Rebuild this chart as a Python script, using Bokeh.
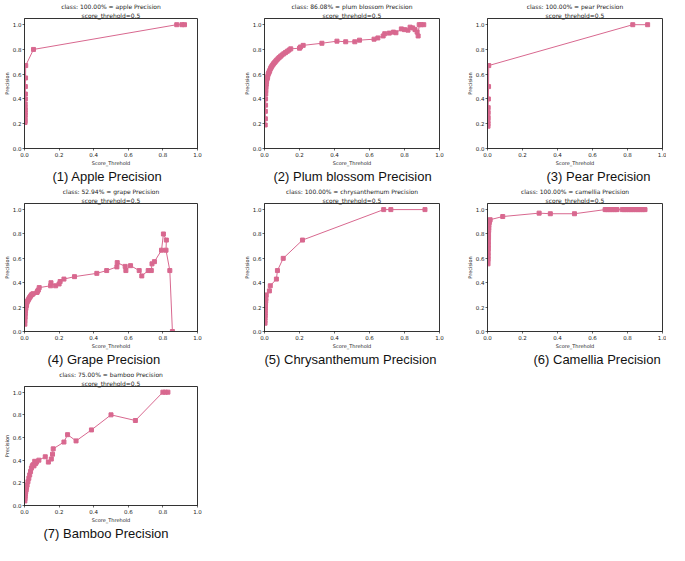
from bokeh.plotting import figure
from bokeh.models import Title, FixedTicker, PrintfTickFormatter, Range1d
from bokeh.layouts import column, row
from bokeh.embed import file_html
from bokeh.resources import INLINE

# ---------------- data ----------------
apple_x = [0.003, 0.003, 0.003, 0.003, 0.004, 0.004, 0.004, 0.004, 0.004, 0.005, 0.005, 0.005, 0.006, 0.007, 0.052, 0.88, 0.91, 0.925]
apple_y = [0.21, 0.22, 0.235, 0.25, 0.27, 0.29, 0.31, 0.33, 0.36, 0.40, 0.44, 0.50, 0.57, 0.67, 0.80, 1.0, 1.0, 1.0]

plum_x = [0.004, 0.005, 0.005, 0.006, 0.006, 0.007, 0.008, 0.009, 0.010, 0.012, 0.014, 0.016, 0.018, 0.021,
          0.024, 0.027, 0.030, 0.034, 0.038, 0.042, 0.047, 0.052, 0.058, 0.064, 0.070, 0.077, 0.084, 0.092,
          0.100, 0.110, 0.120, 0.130, 0.140, 0.150, 0.200, 0.206, 0.221, 0.328, 0.414, 0.464, 0.516, 0.543,
          0.626, 0.648, 0.678, 0.687, 0.713, 0.737, 0.751, 0.782, 0.800, 0.820, 0.832, 0.847, 0.860, 0.872,
          0.878, 0.884, 0.895, 0.910]
plum_y = [0.19, 0.24, 0.30, 0.35, 0.40, 0.44, 0.47, 0.50, 0.52, 0.54, 0.56, 0.57, 0.58, 0.60,
          0.61, 0.62, 0.63, 0.645, 0.655, 0.665, 0.675, 0.685, 0.695, 0.705, 0.715, 0.725, 0.735, 0.745,
          0.755, 0.765, 0.775, 0.785, 0.795, 0.805, 0.81, 0.82, 0.833, 0.85, 0.867, 0.862, 0.862, 0.875,
          0.883, 0.893, 0.909, 0.927, 0.932, 0.94, 0.935, 0.966, 0.96, 0.956, 0.98, 0.974, 0.96, 0.94,
          0.909, 1.0, 1.0, 1.0]

pear_x = [0.003, 0.003, 0.003, 0.004, 0.004, 0.004, 0.005, 0.006, 0.007, 0.83, 0.915]
pear_y = [0.18, 0.20, 0.22, 0.25, 0.29, 0.33, 0.40, 0.50, 0.67, 1.0, 1.0]

grape_x = [0.002, 0.003, 0.004, 0.005, 0.006, 0.008, 0.010, 0.012, 0.015, 0.018, 0.022, 0.026, 0.030, 0.035,
           0.040, 0.045, 0.050, 0.072, 0.075, 0.080, 0.085, 0.151, 0.153, 0.180, 0.200, 0.206, 0.228, 0.289,
           0.418, 0.475, 0.534, 0.536, 0.582, 0.586, 0.613, 0.663, 0.678, 0.715, 0.733, 0.737, 0.751, 0.792,
           0.803, 0.820, 0.818, 0.840, 0.855]
grape_y = [0.06, 0.09, 0.12, 0.15, 0.17, 0.19, 0.21, 0.22, 0.24, 0.25, 0.26, 0.27, 0.28, 0.29,
           0.30, 0.305, 0.31, 0.32, 0.33, 0.34, 0.36, 0.375, 0.40, 0.375, 0.39, 0.41, 0.43, 0.45,
           0.477, 0.50, 0.53, 0.565, 0.534, 0.50, 0.54, 0.50, 0.456, 0.50, 0.50, 0.555, 0.573, 0.667,
           0.80, 0.75, 0.667, 0.50, 0.0]

chrys_x = [0.003, 0.003, 0.003, 0.004, 0.004, 0.004, 0.005, 0.005, 0.006, 0.007, 0.008, 0.010, 0.028, 0.033,
           0.068, 0.074, 0.107, 0.217, 0.681, 0.722, 0.917]
chrys_y = [0.068, 0.09, 0.11, 0.13, 0.15, 0.17, 0.19, 0.21, 0.23, 0.25, 0.27, 0.30, 0.333, 0.375,
           0.43, 0.50, 0.60, 0.75, 1.0, 1.0, 1.0]

cam_x = [0.003, 0.004, 0.004, 0.004, 0.005, 0.005, 0.005, 0.006, 0.006, 0.007, 0.007, 0.008, 0.009, 0.010,
         0.012, 0.015, 0.087, 0.295, 0.359, 0.497, 0.672, 0.68, 0.69, 0.70, 0.71, 0.72, 0.73, 0.74,
         0.77, 0.78, 0.79, 0.80, 0.81, 0.82, 0.83, 0.84, 0.85, 0.86, 0.87, 0.88, 0.89, 0.90]
cam_y = [0.555, 0.59, 0.62, 0.65, 0.68, 0.71, 0.74, 0.77, 0.80, 0.83, 0.85, 0.87, 0.89, 0.90,
         0.91, 0.917, 0.943, 0.971, 0.966, 0.966, 1.0, 1.0, 1.0, 1.0, 1.0, 1.0, 1.0, 1.0,
         1.0, 1.0, 1.0, 1.0, 1.0, 1.0, 1.0, 1.0, 1.0, 1.0, 1.0, 1.0, 1.0, 1.0]

bam_x = [0.002, 0.003, 0.004, 0.005, 0.007, 0.010, 0.012, 0.015, 0.020, 0.025, 0.030, 0.035, 0.040, 0.045,
         0.050, 0.055, 0.059, 0.064, 0.070, 0.083, 0.120, 0.138, 0.155, 0.162, 0.166, 0.228, 0.249, 0.298,
         0.387, 0.500, 0.641, 0.800, 0.814, 0.829]
bam_y = [0.04, 0.06, 0.08, 0.10, 0.12, 0.14, 0.16, 0.18, 0.21, 0.24, 0.27, 0.30, 0.33, 0.35,
         0.36, 0.35, 0.39, 0.37, 0.383, 0.40, 0.43, 0.383, 0.41, 0.453, 0.50, 0.56, 0.625, 0.57,
         0.667, 0.80, 0.75, 1.0, 1.0, 1.0]

class_titles = [
    "class: 100.00% = apple Precision",
    "class: 86.08% = plum blossom Precision",
    "class: 100.00% = pear Precision",
    "class: 52.94% = grape Precision",
    "class: 100.00% = chrysanthemum Precision",
    "class: 100.00% = camellia Precision",
    "class: 75.00% = bamboo Precision",
]
captions = [
    "(1) Apple Precision",
    "(2) Plum blossom Precision",
    "(3) Pear Precision",
    "(4) Grape Precision",
    "(5) Chrysanthemum Precision",
    "(6) Camellia Precision",
    "(7) Bamboo Precision",
]
subtitle = "score_threhold=0.5"
x_label = "Score_Threhold"
y_label = "Precision"
ticks = [0.0, 0.2, 0.4, 0.6, 0.8, 1.0]

series = [(apple_x, apple_y), (plum_x, plum_y), (pear_x, pear_y), (grape_x, grape_y),
          (chrys_x, chrys_y), (cam_x, cam_y), (bam_x, bam_y)]

# ---------------- layout / style ----------------
COLOR = "#d8688f"
FRAME_W = 177
COL_L = [20, 22, 22]
COL_R = [43, 24, 4]
ROW_TOP = [15, 15, 15]
ROW_FRAME = [135, 134, 127]
ROW_BOT = [35, 34, 32]
CAP_OFFSET = [28, 9, 59, 23, 0, 46, 19]   # caption left edge from frame left, px
Y_TOP = 1.05


def make(i):
    c, r = i % 3, i // 3
    W = COL_L[c] + FRAME_W + COL_R[c]
    FH = ROW_FRAME[r]
    H = ROW_TOP[r] + FH + ROW_BOT[r]
    x, y = series[i]
    p = figure(width=W, height=H, output_backend="svg", toolbar_location=None,
               x_range=Range1d(0, 1), y_range=Range1d(0, Y_TOP), title=None,
               min_border_left=COL_L[c], min_border_right=COL_R[c],
               min_border_top=ROW_TOP[r], min_border_bottom=ROW_BOT[r])
    p.background_fill_color = "white"
    p.border_fill_color = "white"
    p.outline_line_color = "#333333"
    p.outline_line_width = 1
    p.outline_line_alpha = 1
    p.xgrid.visible = False
    p.ygrid.visible = False
    for ax in (p.xaxis[0], p.yaxis[0]):
        ax.ticker = FixedTicker(ticks=ticks)
        ax.formatter = PrintfTickFormatter(format="%.1f")
        ax.major_label_text_font = "DejaVu Sans"
        ax.major_label_text_font_size = "5.5px"
        ax.major_label_text_color = "#222222"
        ax.major_label_standoff = 1
        ax.major_tick_in = 0
        ax.major_tick_out = 2
        ax.major_tick_line_width = 0.6
        ax.minor_tick_line_color = None
        ax.axis_line_color = "#333333"
        ax.axis_line_width = 1
        ax.axis_label_text_font = "DejaVu Sans"
        ax.axis_label_text_font_size = "5px"
        ax.axis_label_text_font_style = "normal"
        ax.axis_label_text_color = "#222222"
        ax.axis_label_standoff = 0
    p.xaxis.axis_label = x_label
    p.yaxis.axis_label = y_label

    p.line(x, y, line_color=COLOR, line_width=1)
    p.scatter(x, y, marker="square", size=4, fill_color=COLOR, line_color=COLOR)

    # second title line first: it sits next to the frame
    p.add_layout(Title(text=subtitle, align="center", text_font="DejaVu Sans",
                       text_font_size="6px", text_font_style="normal", text_color="#222222",
                       standoff=0), "above")
    p.add_layout(Title(text=class_titles[i], align="center", text_font="DejaVu Sans",
                       text_font_size="6px", text_font_style="normal", text_color="#222222",
                       standoff=0), "above")
    p.add_layout(Title(text=captions[i], align="left", offset=CAP_OFFSET[i],
                       vertical_align="top",
                       text_font="Liberation Sans", text_font_size="13px",
                       text_font_style="normal", text_color="#111111",
                       standoff=0), "below")
    return p


plots = [make(i) for i in range(7)]
layout = column(row(plots[0], plots[1], plots[2]),
                row(plots[3], plots[4], plots[5]),
                row(plots[6]))

open("out.html", "w").write(file_html(layout, INLINE))
